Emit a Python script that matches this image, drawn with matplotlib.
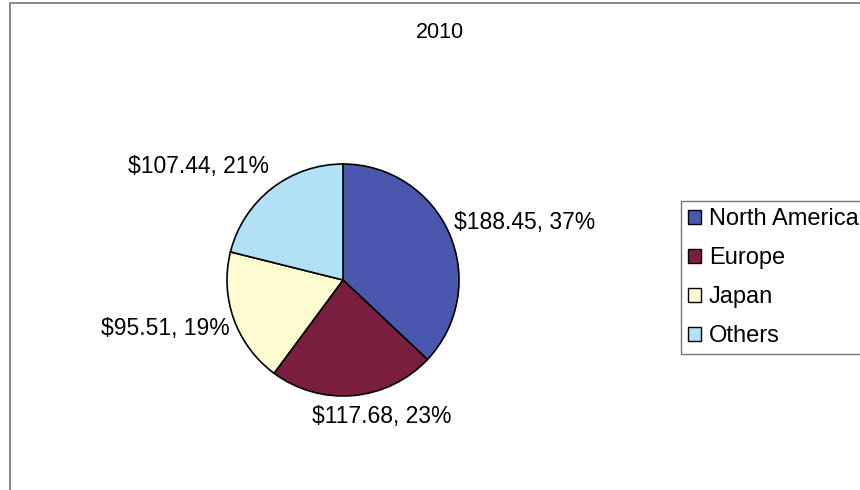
import numpy as np
import matplotlib.pyplot as plt
from matplotlib.patches import Rectangle

plt.rcParams['font.family'] = ['Liberation Sans', 'DejaVu Sans']

regions = ["North America", "Europe", "Japan", "Others"]
sales = [188.45, 117.68, 95.51, 107.44]
colors = ["#4a57ae", "#7a1e40", "#fdfbcf", "#b2e1f6"]

fig = plt.figure(figsize=(8.6, 4.9), dpi=100)
W, H = 860, 490

# chart area border (only top and left show)
fig.add_artist(Rectangle((10 / W, -0.1), 1.0, (H - 3) / H + 0.1,
                         transform=fig.transFigure, fill=False,
                         edgecolor="#777777", linewidth=1.2))

fig.text(440 / W, 1 - 33 / H, "2010", ha="center", va="center", fontsize=15.5)

# pie axes: centre (343, 280), radius 116 px
cx, cy, r = 343, 280, 116
ax = fig.add_axes([(cx - r) / W, 1 - (cy + r) / H, 2 * r / W, 2 * r / H])
wedges, _ = ax.pie(sales, colors=colors, startangle=90, counterclock=False,
                   radius=1.0,
                   wedgeprops=dict(edgecolor="black", linewidth=1.2))
ax.set_xlim(-1, 1)
ax.set_ylim(-1, 1)
ax.set_aspect("equal")
ax.axis("off")

# data labels outside each slice: "$value, percent"
total = sum(sales)
for w, v in zip(wedges, sales):
    ang = np.deg2rad((w.theta1 + w.theta2) / 2)
    c, s = np.cos(ang), np.sin(ang)
    x, y = 1.08 * c, 1.08 * s
    if abs(c) < 0.3:
        ha = "center"
        x += 0.24
    else:
        ha = "left" if x > 0 else "right"
    if y < -0.8:
        va = "top"
    elif y > 0.7:
        va = "bottom"
        y += 0.03
        x += 0.03
    else:
        va = "center"
        x = 1.04 * c
        y += 0.17 * s
    ax.text(x, y, f"${v:.2f}, {v / total * 100:.0f}%", ha=ha, va=va,
            fontsize=16.5, clip_on=False)

leg = fig.legend(wedges, regions, loc="upper left",
                 bbox_to_anchor=(681 / W, 1 - 201 / H),
                 fontsize=17, frameon=True, fancybox=False,
                 handlelength=0.55, handleheight=0.55, handletextpad=0.34,
                 labelspacing=0.72, borderpad=0.3, borderaxespad=0)
leg.get_frame().set_edgecolor("#555555")
leg.get_frame().set_linewidth(1.0)
for h in leg.legend_handles:
    h.set_linewidth(1.0)

fig.savefig("out.png", dpi=100)
